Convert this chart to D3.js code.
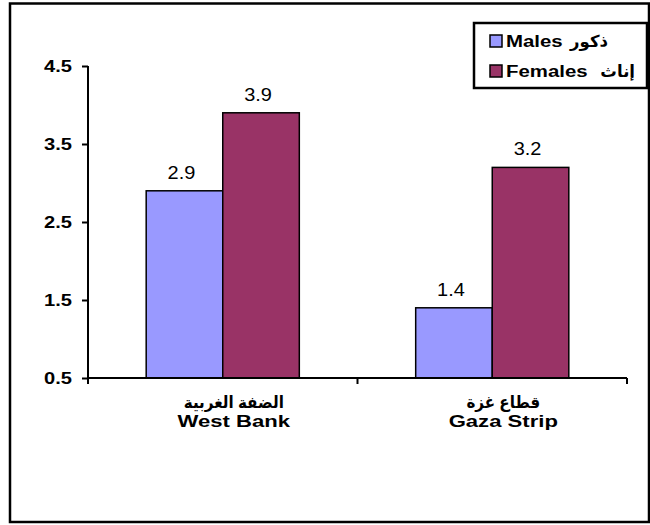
<!DOCTYPE html>
<html><head><meta charset="utf-8">
<script src="https://cdn.jsdelivr.net/npm/d3@7"></script>
<style>body{margin:0;background:#fff}svg{display:block}</style>
</head><body>
<script>
const categoriesEn = ["West Bank", "Gaza Strip"];
const categoriesAr = ["الضفة الغربية", "قطاع غزة"];
const seriesEn = ["Males", "Females"];
const seriesAr = ["ذكور", "إناث"];
const males = [2.9, 1.4];
const females = [3.9, 3.2];
const yTicks = [0.5, 1.5, 2.5, 3.5, 4.5];
const colors = ["#9999FF", "#993366"];

const W = 650, H = 525;
const svg = d3.select("body").append("svg").attr("width", W).attr("height", H);
const font = "'Liberation Sans', Arial, 'DejaVu Sans', sans-serif";

svg.append("rect").attr("x", 10).attr("y", 3.5).attr("width", 639).attr("height", 518.5)
  .attr("fill", "#fff").attr("stroke", "#000").attr("stroke-width", 2.5);

const x0 = 88, x1 = 627, yTop = 66, yBot = 378;
const y = d3.scaleLinear().domain([0.5, 4.5]).range([yBot, yTop]);
const x = d3.scaleBand().domain(categoriesEn).range([x0, x1]).padding(0);
const xs = d3.scaleBand().domain(seriesEn).range([0, x.bandwidth()]).paddingInner(0).paddingOuter(0.76);

function stext(g, px, py, str, opts) {
  const t = g.append("g").attr("transform", `translate(${px},${py}) scale(${opts.sx || 1},1)`)
    .append("text").attr("x", 0).attr("y", 0)
    .attr("font-family", opts.family || font).attr("font-size", opts.size)
    .attr("font-weight", opts.bold ? "bold" : "normal")
    .attr("text-anchor", opts.anchor || "start").attr("fill", "#000").text(str);
  return t;
}

// bars
const data = categoriesEn.map((c, i) => ({ c, vals: [males[i], females[i]] }));
const groups = svg.append("g").selectAll("g").data(data).join("g")
  .attr("transform", d => `translate(${x(d.c)},0)`);
groups.selectAll("rect").data(d => d.vals.map((v, j) => ({ v, s: seriesEn[j], j }))).join("rect")
  .attr("x", d => xs(d.s)).attr("y", d => y(d.v))
  .attr("width", xs.bandwidth()).attr("height", d => y(0.5) - y(d.v))
  .attr("fill", d => colors[d.j]).attr("stroke", "#000").attr("stroke-width", 1.5);

// value labels
data.forEach(d => {
  d.vals.forEach((v, j) => {
    stext(svg, x(d.c) + xs(seriesEn[j]) + xs.bandwidth() / 2 - 3, y(v) - 12, d3.format(".1f")(v),
      { size: 19, sx: 1.05, anchor: "middle" });
  });
});

// y axis
const yAxis = d3.axisLeft(y).tickValues(yTicks).tickSize(6).tickFormat("");
const ya = svg.append("g").attr("transform", `translate(${x0},0)`).call(yAxis);
ya.select(".domain").attr("d", `M0,${yTop}V${yBot}`).attr("stroke-width", 2);
ya.selectAll(".tick line").attr("stroke-width", 2);
yTicks.forEach(t => {
  stext(svg, 72, y(t) + 6, d3.format(".1f")(t), { size: 16.5, bold: true, sx: 1.22, anchor: "end" });
});

// x axis
const xa = svg.append("g").attr("transform", `translate(0,${yBot})`);
xa.append("line").attr("x1", x0).attr("x2", x1).attr("y1", 0).attr("y2", 0).attr("stroke", "#000").attr("stroke-width", 2);
const xTickPos = categoriesEn.map(c => x(c)).concat([x1]);
xa.selectAll("line.tk").data(xTickPos).join("line").attr("class", "tk")
  .attr("x1", d => d).attr("x2", d => d).attr("y1", 0).attr("y2", 6).attr("stroke", "#000").attr("stroke-width", 2);

categoriesEn.forEach((c, i) => {
  const cx = x(c) + x.bandwidth() / 2 + 11;
  stext(svg, cx, 408, categoriesAr[i], { size: 16.5, bold: true, sx: 0.92, anchor: "middle" });
  stext(svg, cx, 427, c, { size: 17, bold: true, sx: 1.3, anchor: "middle" });
});

// legend
const lg = svg.append("g");
lg.append("rect").attr("x", 474).attr("y", 23).attr("width", 173).attr("height", 65)
  .attr("fill", "#fff").attr("stroke", "#000").attr("stroke-width", 2.5);
seriesEn.forEach((s, i) => {
  const by = 47 + i * 30;
  lg.append("rect").attr("x", 490).attr("y", by - 12).attr("width", 12).attr("height", 12)
    .attr("fill", colors[i]).attr("stroke", "#000").attr("stroke-width", 1.5);
  stext(lg, 506, by, s, { size: 17, bold: true, sx: 1.2 });
  stext(lg, i === 0 ? 608 : 635, by, seriesAr[i], { size: 16.5, bold: true, sx: 1.0, anchor: "end" });
});
</script>
</body></html>
